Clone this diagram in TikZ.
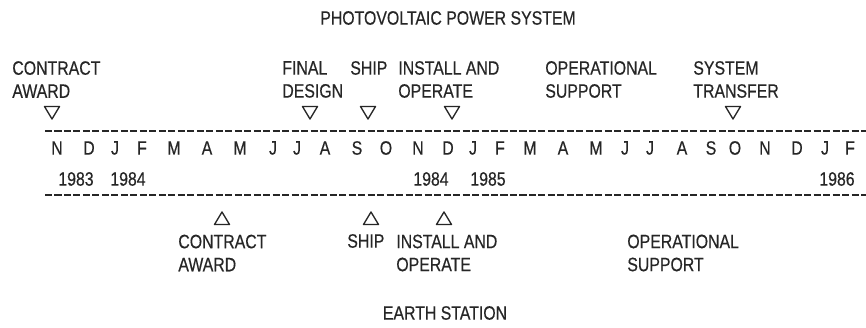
\documentclass[tikz,border=0pt]{standalone}
\usepackage{fontspec}
\setmainfont{Liberation Sans}[FakeStretch=0.82, FakeBold=0.4]
\usetikzlibrary{calc}
\definecolor{tinta}{HTML}{262626}

\begin{document}
\begin{tikzpicture}[line cap=butt, line join=round, text=tinta,
    font=\fontsize{11}{13.1}\selectfont,
    etiqueta/.style={anchor=west, align=left, inner sep=0pt},
    letra/.style={inner sep=0pt},
    hito/.style={tinta, line width=0.75pt},
    regla/.style={tinta, line width=0.8pt, dash pattern=on 4pt off 1.4pt}]
  \useasboundingbox[fill=white] (0,0) rectangle (17.32,-6.56);

  % Titulos
  \node[letra] (titulo) at (8.96,-0.36) {PHOTOVOLTAIC POWER SYSTEM};
  \node[letra] (estacion) at (8.90,-6.26) {EARTH STATION};

  % Hitos del sistema fotovoltaico
  \node[etiqueta] (pcontrato) at (0.24,-1.59) {CONTRACT\\AWARD};
  \node[etiqueta] (pdiseno) at (5.64,-1.59) {FINAL\\DESIGN};
  \node[etiqueta] (penvio) at (7.00,-1.36) {SHIP};
  \node[etiqueta] (pinstala) at (7.96,-1.59) {INSTALL AND\\OPERATE};
  \node[etiqueta] (psoporte) at (10.90,-1.59) {OPERATIONAL\\SUPPORT};
  \node[etiqueta] (ptransf) at (13.86,-1.59) {SYSTEM\\TRANSFER};
  \foreach \x in {52,310,368,452,733}
    \draw[hito] ({\x/50-0.15},-2.13) -- ++(0.30,0) -- ++(-0.15,-0.25) -- cycle;

  % Escala de meses
  \draw[regla] (0.90,-2.62) -- (17.32,-2.62);
  \foreach \x/\m [count=\i] in {57/N,89/D,115/J,142/F,174/M,207/A,240/M,273/J,
      297/J,325/A,357/S,386/O,418/N,448/D,473/J,500/F,530/M,563/A,596/M,625/J,
      650/J,682/A,711/S,735/O,765/N,797/D,825/J,850/F}
    \node[letra] (mes\i) at ({\x/50},-2.96) {\m};
  \foreach \x/\a [count=\i] in {76/1983,128/1984,431/1984,488/1985,837/1986}
    \node[letra] (anio\i) at ({\x/50},-3.58) {\a};
  \draw[regla] (0.90,-3.90) -- (17.32,-3.90);

  % Hitos de la estacion terrena
  \foreach \x in {222,371,444}
    \draw[hito] ({\x/50-0.15},-4.49) -- ++(0.30,0) -- ++(-0.15,0.25) -- cycle;
  \node[etiqueta] (tcontrato) at (3.56,-5.06) {CONTRACT\\AWARD};
  \node[etiqueta] (tenvio) at (6.94,-4.82) {SHIP};
  \node[etiqueta] (tinstala) at (7.92,-5.06) {INSTALL AND\\OPERATE};
  \node[etiqueta] (tsoporte) at (12.54,-5.06) {OPERATIONAL\\SUPPORT};
\end{tikzpicture}
\end{document}
